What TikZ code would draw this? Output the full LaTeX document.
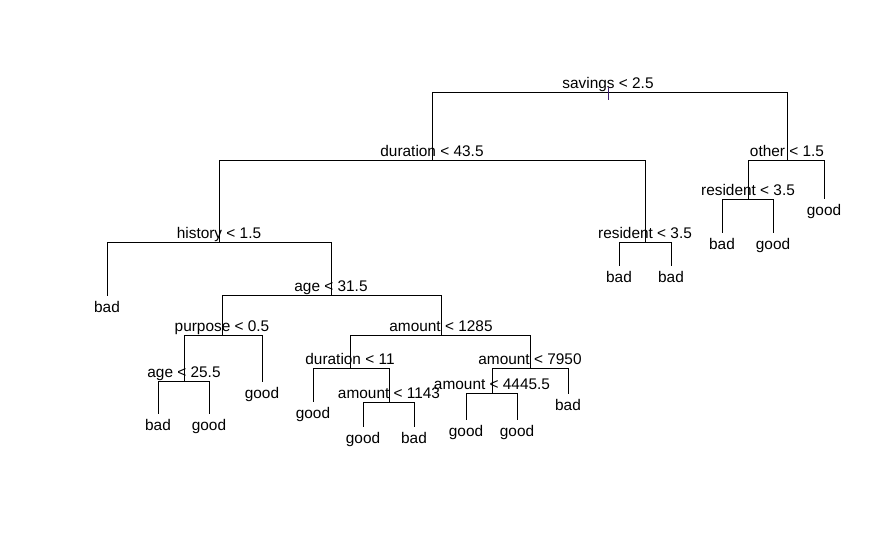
\documentclass[tikz,border=0pt]{standalone}
\usepackage{fontspec}
\setmainfont{Liberation Sans}
\usepackage{tikz}

\begin{document}
\begin{tikzpicture}[x=1pt,y=-1pt,line width=0.8pt,
    splitlab/.style={anchor=base,inner sep=0pt,yshift=4pt,font=\fontsize{15.4}{18}\selectfont},
    leaflab/.style={anchor=base,inner sep=0pt,yshift=-16pt,font=\fontsize{15.4}{18}\selectfont}]
        \useasboundingbox (0,0) rectangle (894,538);
        % splits
        \coordinate (sav) at (608,92);
        \coordinate (dur) at (432,160);
        \coordinate (oth) at (787,160);
        \coordinate (his) at (219,242);
        \coordinate (resa) at (645,242);
        \coordinate (resb) at (748,199);
        \coordinate (agea) at (331,295);
        \coordinate (pur) at (222,335);
        \coordinate (amta) at (441,335);
        \coordinate (ageb) at (184,381);
        \coordinate (durb) at (350,368);
        \coordinate (amtc) at (530,368);
        \coordinate (amtb) at (389,402);
        \coordinate (amtd) at (492,393);
        % leaves
        \coordinate (la) at (107,296);
        \coordinate (lb) at (619,266);
        \coordinate (lc) at (671,266);
        \coordinate (ld) at (722,233);
        \coordinate (le) at (773,233);
        \coordinate (lf) at (824,199);
        \coordinate (lg) at (262,382);
        \coordinate (lh) at (158,414);
        \coordinate (li) at (209,414);
        \coordinate (lj) at (313,402);
        \coordinate (lk) at (363,427);
        \coordinate (ll) at (414,427);
        \coordinate (lm) at (466,420);
        \coordinate (ln) at (517,420);
        \coordinate (lo) at (568,394);
        % branches
        \path[draw] (sav) -| (dur);
        \path[draw] (sav) -| (oth);
        \path[draw] (dur) -| (his);
        \path[draw] (dur) -| (resa);
        \path[draw] (oth) -| (resb);
        \path[draw] (oth) -| (lf);
        \path[draw] (his) -| (la);
        \path[draw] (his) -| (agea);
        \path[draw] (resa) -| (lb);
        \path[draw] (resa) -| (lc);
        \path[draw] (resb) -| (ld);
        \path[draw] (resb) -| (le);
        \path[draw] (agea) -| (pur);
        \path[draw] (agea) -| (amta);
        \path[draw] (pur) -| (ageb);
        \path[draw] (pur) -| (lg);
        \path[draw] (ageb) -| (lh);
        \path[draw] (ageb) -| (li);
        \path[draw] (amta) -| (durb);
        \path[draw] (amta) -| (amtc);
        \path[draw] (durb) -| (lj);
        \path[draw] (durb) -| (amtb);
        \path[draw] (amtb) -| (lk);
        \path[draw] (amtb) -| (ll);
        \path[draw] (amtc) -| (amtd);
        \path[draw] (amtc) -| (lo);
        \path[draw] (amtd) -| (lm);
        \path[draw] (amtd) -| (ln);
        % split labels
        \node[splitlab] (sav-t) at (sav) {savings < 2.5};
        \node[splitlab] (dur-t) at (dur) {duration < 43.5};
        \node[splitlab] (oth-t) at (oth) {other < 1.5};
        \node[splitlab] (his-t) at (his) {history < 1.5};
        \node[splitlab] (resa-t) at (resa) {resident < 3.5};
        \node[splitlab] (resb-t) at (resb) {resident < 3.5};
        \node[splitlab] (agea-t) at (agea) {age < 31.5};
        \node[splitlab] (pur-t) at (pur) {purpose < 0.5};
        \node[splitlab] (amta-t) at (amta) {amount < 1285};
        \node[splitlab] (ageb-t) at (ageb) {age < 25.5};
        \node[splitlab] (durb-t) at (durb) {duration < 11};
        \node[splitlab] (amtc-t) at (amtc) {amount < 7950};
        \node[splitlab] (amtb-t) at (amtb) {amount < 1143};
        \node[splitlab] (amtd-t) at (amtd) {amount < 4445.5};
        % leaf labels
        \node[leaflab] (la-t) at (la) {bad};
        \node[leaflab] (lb-t) at (lb) {bad};
        \node[leaflab] (lc-t) at (lc) {bad};
        \node[leaflab] (ld-t) at (ld) {bad};
        \node[leaflab] (le-t) at (le) {good};
        \node[leaflab] (lf-t) at (lf) {good};
        \node[leaflab] (lg-t) at (lg) {good};
        \node[leaflab] (lh-t) at (lh) {bad};
        \node[leaflab] (li-t) at (li) {good};
        \node[leaflab] (lj-t) at (lj) {good};
        \node[leaflab] (lk-t) at (lk) {good};
        \node[leaflab] (ll-t) at (ll) {bad};
        \node[leaflab] (lm-t) at (lm) {good};
        \node[leaflab] (ln-t) at (ln) {good};
        \node[leaflab] (lo-t) at (lo) {bad};
        % root tick
        \coordinate (savtop) at (608,87);
        \coordinate (savbot) at (608,100);
        \path[draw,color={rgb,255:red,60;green,30;blue,110}] (savtop) -- (savbot);
    \end{tikzpicture}
\end{document}
